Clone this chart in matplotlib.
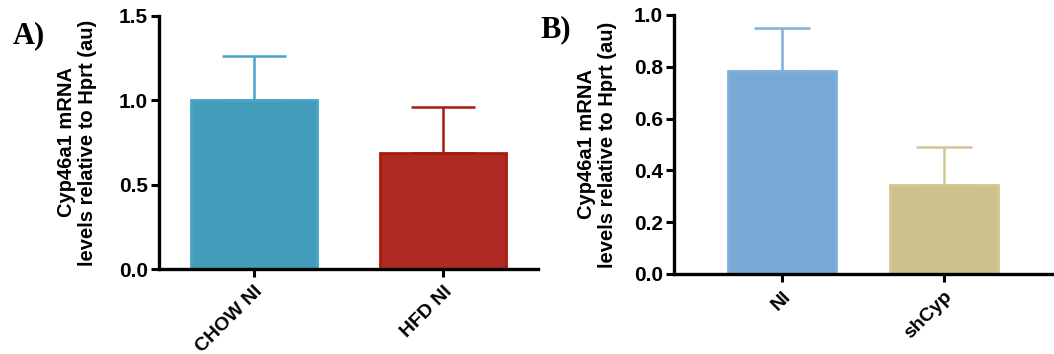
import numpy as np
import matplotlib as mpl
import matplotlib.pyplot as plt

mpl.rcParams.update({
    "font.family": "sans-serif",
    "font.sans-serif": ["Liberation Sans", "DejaVu Sans"],
    "font.weight": "bold",
    "axes.labelweight": "bold",
})

# Panel A
A_GROUPS = ["CHOW NI", "HFD NI"]
A_MEAN = [1.00, 0.69]
A_ERR = [0.26, 0.27]
A_FILL = ["#429cba", "#b02a24"]
A_EDGE = ["#4aa4c4", "#a81c0e"]

# Panel B
B_GROUPS = ["NI", "shCyp"]
B_MEAN = [0.785, 0.342]
B_ERR = [0.165, 0.148]
B_FILL = ["#78a9d4", "#cdc18c"]
B_EDGE = ["#80b0da", "#d2c692"]

YLABEL = "Cyp46a1 mRNA\nlevels relative to Hprt (au)"

fig = plt.figure(figsize=(10.54, 3.54), dpi=100)
axA = fig.add_axes([0.1509, 0.240, 0.3595, 0.715])
axB = fig.add_axes([0.6395, 0.226, 0.3605, 0.732])


def draw(ax, groups, mean, err, fill, edge, ylim, yticks, fmt, xlim, capsize):
    x = np.arange(len(groups))
    ax.bar(x, mean, width=0.665, color=fill, edgecolor=edge, linewidth=2.0, zorder=2)
    for xi, m, e, c in zip(x, mean, err, edge):
        ax.errorbar(xi, m, yerr=[[0], [e]], fmt="none", ecolor=c,
                    elinewidth=1.8, capsize=capsize, capthick=1.8, zorder=1)
    ax.set_xlim(*xlim)
    ax.set_ylim(*ylim)
    ax.set_yticks(yticks)
    ax.set_yticklabels([fmt.format(v) for v in yticks], fontsize=15, fontweight="bold")
    ax.set_xticks(x)
    ax.set_xticklabels(groups, rotation=45, ha="right", rotation_mode="anchor",
                       fontsize=14, fontweight="bold")
    for s in ["top", "right"]:
        ax.spines[s].set_visible(False)
    for s in ["left", "bottom"]:
        ax.spines[s].set_linewidth(2.4)
    ax.tick_params(axis="y", direction="out", length=6, width=2.2, pad=2)
    ax.tick_params(axis="x", direction="out", length=6, width=2.2, pad=4)
    ax.set_ylabel(YLABEL, fontsize=14.5, fontweight="bold", linespacing=1.15)


draw(axA, A_GROUPS, A_MEAN, A_ERR, A_FILL, A_EDGE, (0, 1.5),
     [0.0, 0.5, 1.0, 1.5], "{:.1f}", (-0.5, 1.5), 23)
draw(axB, B_GROUPS, B_MEAN, B_ERR, B_FILL, B_EDGE, (0, 1.0),
     [0.0, 0.2, 0.4, 0.6, 0.8, 1.0], "{:.1f}", (-0.667, 1.68), 20)

axA.yaxis.set_label_coords(-0.163, 0.50)
axB.yaxis.set_label_coords(-0.150, 0.50)

fig.text(0.012, 0.90, "A)", fontsize=22, fontweight="bold",
         family="Liberation Serif", va="center")
fig.text(0.513, 0.915, "B)", fontsize=22, fontweight="bold",
         family="Liberation Serif", va="center")

fig.savefig("out.png", dpi=100)
